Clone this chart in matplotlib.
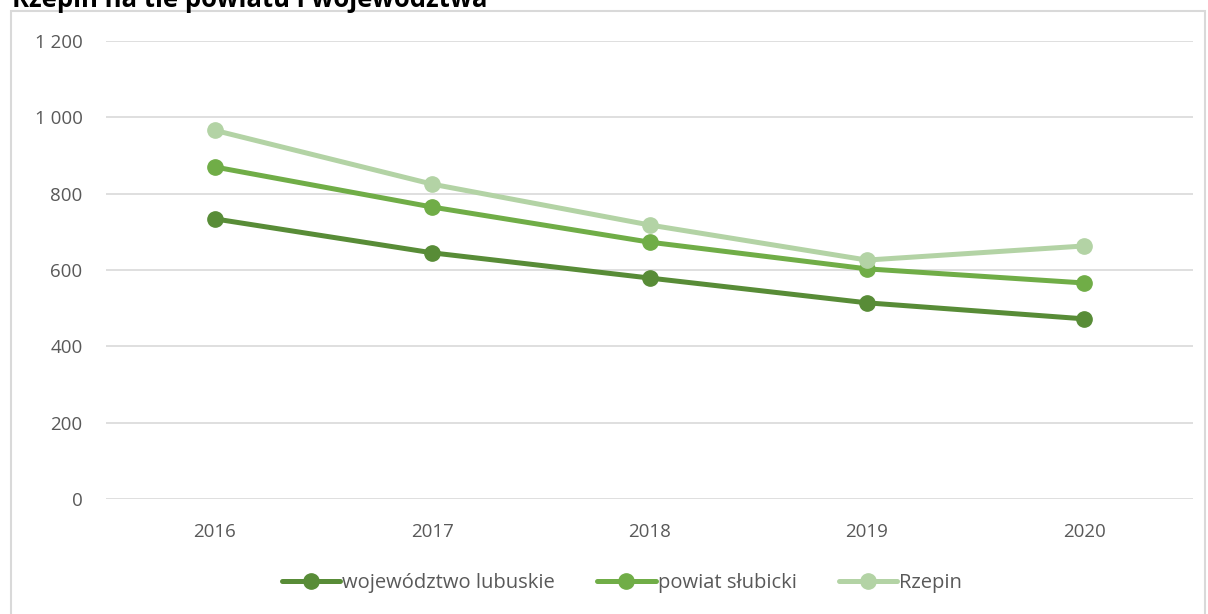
import matplotlib.pyplot as plt
from matplotlib.patches import Rectangle

years = ['2016', '2017', '2018', '2019', '2020']
wojewodztwo = [734, 645, 579, 514, 472]
powiat = [870, 765, 673, 603, 566]
rzepin = [966, 825, 718, 626, 663]

series = [
    ('województwo lubuskie', wojewodztwo, '#588c37'),
    ('powiat słubicki', powiat, '#70ad47'),
    ('Rzepin', rzepin, '#b3d3a5'),
]

plt.rcParams['font.family'] = ['Open Sans', 'DejaVu Sans']

fig = plt.figure(figsize=(12.08, 6.14), dpi=100)
fig.patches.append(Rectangle((11 / 1208, -0.05), 1194 / 1208, 1.05 - 11 / 614,
                             transform=fig.transFigure, fill=False,
                             edgecolor='#d9d9d9', linewidth=1.5))
fig.text(12 / 1208, 1 - 7 / 614, 'Rzepin na tle powiatu i województwa',
         fontsize=18.5, fontweight='bold', color='black', va='baseline', ha='left')

ax = fig.add_axes([106 / 1208, 1 - 499 / 614, 1087 / 1208, 458 / 614])
x = range(len(years))
for name, vals, col in series:
    ax.plot(x, vals, color=col, linewidth=3.6, marker='o', markersize=11,
            label=name, solid_capstyle='round')

ax.set_xlim(-0.5, 4.5)
ax.set_ylim(0, 1200)
ax.set_yticks(range(0, 1201, 200))
ax.set_yticklabels([f'{v:,}'.replace(',', ' ') for v in range(0, 1201, 200)])
ax.set_xticks(list(x))
ax.set_xticklabels(years)
ax.grid(axis='y', color='#d9d9d9', linewidth=1.2)
ax.set_axisbelow(True)
for s in ax.spines.values():
    s.set_visible(False)
ax.tick_params(length=0, labelsize=13.5, labelcolor='#595959')
ax.tick_params(axis='y', pad=17)
ax.tick_params(axis='x', pad=17)

fig.legend(loc='center', bbox_to_anchor=(622 / 1208, 1 - 583 / 614), ncol=3,
           frameon=False, fontsize=14.5, labelcolor='#595959', handlelength=2.9,
           handletextpad=0.1, columnspacing=2.1)

fig.savefig('out.png', dpi=100)
